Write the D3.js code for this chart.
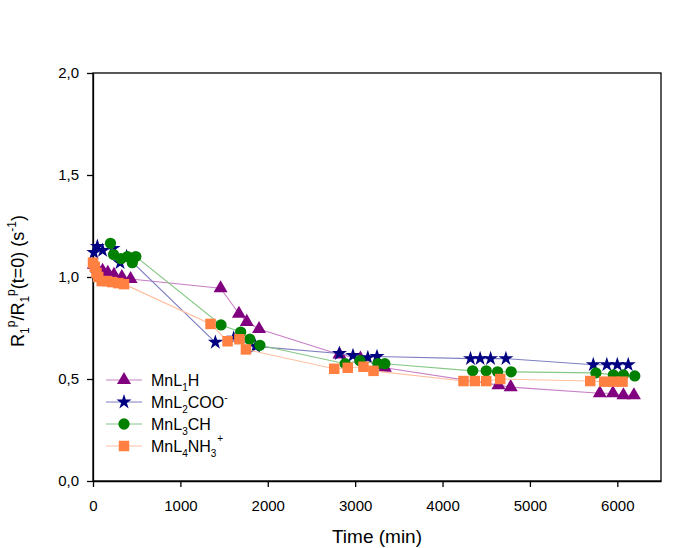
<!DOCTYPE html>
<html lang="en">
<head>
<meta charset="utf-8" />
<title>R1p relaxation ratio vs time</title>
<script src="https://cdn.jsdelivr.net/npm/d3@7"></script>
<style>
  body { margin:0; background:#fff; font-family:"Liberation Sans", Arial, sans-serif; }
  svg text { fill:#000; }
  .axis path, .axis line { stroke:#000; stroke-width:1.3; }
</style>
</head>
<body>
<div id="chart"></div>
<script>
// --- data ------------------------------------------------------------------
const xTicks = [0, 1000, 2000, 3000, 4000, 5000, 6000];
const yTicks = [0, 0.5, 1.0, 1.5, 2.0];

// MnL1H
const l1Time  = [10, 50, 110, 170, 240, 330, 430, 1460, 1670, 1760, 1900, 2820, 3060, 3340, 4640, 4780, 5800, 5950, 6070, 6190];
const l1Value = [1.06, 1.04, 1.03, 1.02, 1.01, 1.00, 0.99, 0.945, 0.82, 0.78, 0.745, 0.62, 0.60, 0.555, 0.47, 0.46, 0.43, 0.43, 0.42, 0.42];

// MnL2COO-
const l2Time  = [10, 50, 110, 230, 310, 385, 1400, 1610, 1860, 2820, 2975, 3145, 3250, 4320, 4430, 4550, 4725, 5725, 5880, 6000, 6125];
const l2Value = [1.12, 1.15, 1.13, 1.14, 1.07, 1.10, 0.68, 0.70, 0.66, 0.625, 0.615, 0.605, 0.61, 0.60, 0.60, 0.60, 0.60, 0.57, 0.57, 0.57, 0.57];

// MnL3CH
const l3Time  = [200, 235, 320, 395, 450, 490, 1465, 1690, 1795, 1910, 2885, 3055, 3260, 3340, 4345, 4500, 4630, 4785, 5755, 5955, 6070, 6200];
const l3Value = [1.165, 1.11, 1.09, 1.10, 1.07, 1.10, 0.765, 0.73, 0.695, 0.665, 0.575, 0.59, 0.575, 0.575, 0.54, 0.54, 0.535, 0.535, 0.53, 0.52, 0.52, 0.515];

// MnL4NH3+
const l4Time  = [0, 20, 40, 60, 100, 160, 220, 290, 355, 1345, 1540, 1675, 1750, 2760, 2915, 3095, 3210, 4240, 4370, 4500, 4660, 5690, 5850, 5960, 6060];
const l4Value = [1.07, 1.05, 1.02, 1.00, 0.98, 0.98, 0.975, 0.97, 0.965, 0.77, 0.685, 0.695, 0.645, 0.55, 0.555, 0.56, 0.54, 0.49, 0.49, 0.49, 0.50, 0.49, 0.487, 0.487, 0.487];

// --- layout ---------------------------------------------------------------
const W = 683, H = 548;
const margin = {top:73, right:22, bottom:67, left:93};
const innerW = W - margin.left - margin.right;
const innerH = H - margin.top - margin.bottom;

const svg = d3.select("#chart").append("svg")
  .attr("width", W).attr("height", H);
const g = svg.append("g").attr("transform", `translate(${margin.left},${margin.top})`);

const x = d3.scaleLinear().domain([0, 6500]).range([0, innerW]);
const y = d3.scaleLinear().domain([0, 2]).range([innerH, 0]);

// frame
g.append("rect").attr("width", innerW).attr("height", innerH)
  .attr("fill", "none").attr("stroke", "#000").attr("stroke-width", 1.3);

const fmtY = d => d3.format(".1f")(d).replace(".", ",");

g.append("g").attr("class", "axis")
  .attr("transform", `translate(0,${innerH})`)
  .call(d3.axisBottom(x).tickValues(xTicks).tickSize(6).tickSizeOuter(0).tickPadding(13).tickFormat(d3.format("d")))
  .call(a => a.selectAll("text").attr("font-size", 15).attr("font-family", "Liberation Sans, Arial"));

g.append("g").attr("class", "axis")
  .call(d3.axisLeft(y).tickValues(yTicks).tickSize(6).tickSizeOuter(0).tickPadding(8).tickFormat(fmtY))
  .call(a => a.selectAll("text").attr("font-size", 15).attr("font-family", "Liberation Sans, Arial"));

// axis titles
svg.append("text")
  .attr("x", margin.left + innerW / 2).attr("y", 543)
  .attr("text-anchor", "middle").attr("font-size", 19)
  .text("Time (min)");

const yl = svg.append("text")
  .attr("transform", `translate(24,${margin.top + innerH / 2 + 4}) rotate(-90)`)
  .attr("text-anchor", "middle").attr("font-size", 18);
yl.append("tspan").text("R");
yl.append("tspan").attr("font-size", 12).attr("dy", 5).text("1");
yl.append("tspan").attr("font-size", 12).attr("dy", -14).text("p");
yl.append("tspan").attr("dy", 9).text("/R");
yl.append("tspan").attr("font-size", 12).attr("dy", 5).text("1");
yl.append("tspan").attr("font-size", 12).attr("dy", -14).text("p");
yl.append("tspan").attr("dy", 9).text("(t=0) (s");
yl.append("tspan").attr("font-size", 12).attr("dy", -8).text("-1");
yl.append("tspan").attr("dy", 8).text(")");

// --- series ---------------------------------------------------------------
const series = [
  {time:l1Time, value:l1Value, sym:d3.symbolTriangle, size:85,  fill:"#800080", line:"#c77fc7"},
  {time:l2Time, value:l2Value, sym:d3.symbolStar,     size:70,  fill:"#000080", line:"#7f7fc2"},
  {time:l3Time, value:l3Value, sym:d3.symbolCircle,   size:100, fill:"#008000", line:"#85c885"},
  {time:l4Time, value:l4Value, sym:d3.symbolSquare,   size:110, fill:"#ff8040", line:"#ffbf9f"}
];

const line = d3.line().x(d => x(d[0])).y(d => y(d[1]));

series.forEach(s => {
  const pts = s.time.map((t, i) => [t, s.value[i]]);
  g.append("path").datum(pts)
    .attr("fill", "none").attr("stroke", s.line).attr("stroke-width", 1.1)
    .attr("d", line);
  g.append("g").selectAll("path").data(pts).join("path")
    .attr("transform", d => `translate(${x(d[0])},${y(d[1])})`)
    .attr("d", d3.symbol().type(s.sym).size(s.size))
    .attr("fill", s.fill);
});

// --- legend ---------------------------------------------------------------
const legendParts = [
  [["MnL"], ["1", "sub"], ["H"]],
  [["MnL"], ["2", "sub"], ["COO"], ["-", "sup"]],
  [["MnL"], ["3", "sub"], ["CH"]],
  [["MnL"], ["4", "sub"], ["NH"], ["3", "sub"], ["+", "sup2"]]
];

const legend = svg.append("g").attr("transform", "translate(106,380)");
const rowH = 22;
series.forEach((s, i) => {
  const row = legend.append("g").attr("transform", `translate(0,${i * rowH})`);
  row.append("line").attr("x1", 0).attr("x2", 36).attr("stroke", s.line).attr("stroke-width", 1.1);
  row.append("path").attr("transform", "translate(18,0)")
    .attr("d", d3.symbol().type(s.sym).size(s.size)).attr("fill", s.fill);
  const t = row.append("text").attr("x", 45).attr("y", 6).attr("font-size", 16);
  let shift = 0;
  legendParts[i].forEach(p => {
    const ts = t.append("tspan").text(p[0]);
    let target = 0;
    if (p[1] === "sub") target = 5;
    if (p[1] === "sup") target = -7;
    if (p[1] === "sup2") { target = -10; ts.attr("dx", 1); }
    if (p[1]) ts.attr("font-size", 10);
    ts.attr("dy", target - shift);
    shift = target;
  });
});
</script>
</body>
</html>
